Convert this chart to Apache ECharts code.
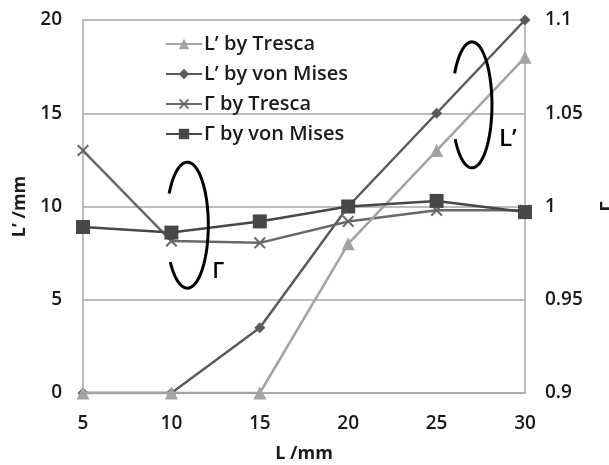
<!DOCTYPE html>
<html>
<head>
<meta charset="utf-8">
<script src="https://cdn.jsdelivr.net/npm/echarts@6/dist/echarts.min.js"></script>
<style>
  html, body { margin: 0; padding: 0; background: #fff; }
  #chart { width: 609px; height: 465px; }
</style>
</head>
<body>
<div id="chart"></div>
<script>
// Support length L (mm)
const lengths = [5, 10, 15, 20, 25, 30];

// Plastic zone length L' (mm), left axis
const lPrimeTresca = [0, 0, 0, 8, 13, 18];
const lPrimeVonMises = [0, 0, 3.5, 10, 15, 20];

// Ratio Γ, right axis
const gammaTresca = [1.030, 0.9815, 0.9805, 0.992, 0.998, 0.998];
const gammaVonMises = [0.989, 0.986, 0.992, 1.000, 1.003, 0.997];

const seriesNames = ['L\u2019 by Tresca', 'L\u2019 by von Mises', '\u0393 by Tresca', '\u0393 by von Mises'];

const FONT = '"Open Sans", "DejaVu Sans", sans-serif';
const crossSymbol = 'path://M0,1.2L1.2,0L5,3.8L8.8,0L10,1.2L6.2,5L10,8.8L8.8,10L5,6.2L1.2,10L0,8.8L3.8,5Z';

const pairs = arr => lengths.map((x, i) => [x, arr[i]]);

const tickFont = { fontFamily: FONT, fontSize: 19, fontWeight: 600, color: '#1a1a1a' };

const chart = echarts.init(document.getElementById('chart'), null, { renderer: 'canvas' });

const option = {
  backgroundColor: '#ffffff',
  animation: false,
  textStyle: { fontFamily: FONT },
  grid: { left: 83, right: 84, top: 20, bottom: 72, outerBoundsMode: 'none', containLabel: false },
  legend: {
    orient: 'vertical',
    left: 160,
    top: 28,
    itemWidth: 36,
    itemHeight: 13,
    itemGap: 8,
    textStyle: { fontFamily: FONT, fontSize: 20, fontWeight: 600, color: '#1a1a1a', lineHeight: 22, padding: [0, 0, 0, -3] },
    data: seriesNames
  },
  xAxis: {
    type: 'value',
    min: 5, max: 30, interval: 5,
    name: 'L /mm',
    nameLocation: 'middle',
    nameGap: 52,
    nameTextStyle: { fontFamily: FONT, fontSize: 18, fontWeight: 'bold', color: '#1a1a1a' },
    axisLine: { show: true, onZero: false, lineStyle: { color: '#a6a6a6', width: 1.5 } },
    axisTick: { show: false },
    splitLine: { show: false },
    axisLabel: Object.assign({ margin: 21 }, tickFont)
  },
  yAxis: [
    {
      type: 'value',
      min: 0, max: 20, interval: 5,
      name: 'L\u2019 /mm',
      nameLocation: 'middle',
      nameRotate: 90,
      nameGap: 52,
      nameTextStyle: { fontFamily: FONT, fontSize: 18, fontWeight: 'bold', color: '#1a1a1a' },
      axisLine: { show: true, lineStyle: { color: '#a6a6a6', width: 1.5 } },
      axisTick: { show: false },
      splitLine: { show: true, lineStyle: { color: '#a6a6a6', width: 1.5 } },
      axisLabel: Object.assign({ margin: 21 }, tickFont)
    },
    {
      type: 'value',
      min: 0.9, max: 1.1, interval: 0.05,
      position: 'right',
      name: '\u0393',
      nameLocation: 'middle',
      nameRotate: 90,
      nameGap: 74,
      nameTextStyle: { fontFamily: FONT, fontSize: 18, fontWeight: 'bold', color: '#1a1a1a' },
      axisLine: { show: true, lineStyle: { color: '#a6a6a6', width: 1.5 } },
      axisTick: { show: false },
      splitLine: { show: false },
      axisLabel: Object.assign({
        margin: 20,
        formatter: v => String(parseFloat(v.toFixed(2)))
      }, tickFont)
    }
  ],
  series: [
    {
      name: seriesNames[0], type: 'line', yAxisIndex: 0,
      data: pairs(lPrimeTresca),
      symbol: 'triangle', symbolSize: 13,
      lineStyle: { color: '#a3a3a3', width: 2.5 },
      itemStyle: { color: '#a3a3a3' },
      z: 3
    },
    {
      name: seriesNames[1], type: 'line', yAxisIndex: 0,
      data: pairs(lPrimeVonMises),
      symbol: 'diamond', symbolSize: 11,
      lineStyle: { color: '#5a5a5a', width: 2.5 },
      itemStyle: { color: '#5a5a5a' },
      z: 2
    },
    {
      name: seriesNames[2], type: 'line', yAxisIndex: 1,
      data: pairs(gammaTresca),
      symbol: crossSymbol, symbolSize: 12,
      lineStyle: { color: '#686868', width: 2.5 },
      itemStyle: { color: '#686868' },
      z: 2
    },
    {
      name: seriesNames[3], type: 'line', yAxisIndex: 1,
      data: pairs(gammaVonMises),
      symbol: 'rect', symbolSize: 14,
      lineStyle: { color: '#474747', width: 2.5 },
      itemStyle: { color: '#474747' },
      z: 4
    }
  ]
};

chart.setOption(option);

// Circular arrows marking which curves belong to which axis
function ellipseArc(cx, cy, rx, ry, a0, a1) {
  const pts = [];
  const n = 80;
  for (let i = 0; i <= n; i++) {
    const t = (a0 + (a1 - a0) * i / n) * Math.PI / 180;
    pts.push([cx + rx * Math.cos(t), cy + ry * Math.sin(t)]);
  }
  return pts;
}

const gammaCenter = chart.convertToPixel({ xAxisIndex: 0, yAxisIndex: 0 }, [10.9, 9.0]);
const lPrimeCenter = chart.convertToPixel({ xAxisIndex: 0, yAxisIndex: 0 }, [27.0, 15.45]);

chart.setOption({
  graphic: [
    {
      type: 'polyline', z: 100,
      shape: { points: ellipseArc(gammaCenter[0], gammaCenter[1], 21, 63, 210, 504) },
      style: { stroke: '#000', lineWidth: 3, fill: null }
    },
    {
      type: 'text', z: 100,
      x: gammaCenter[0] + 25, y: gammaCenter[1] + 36,
      style: { text: '\u0393', font: '600 22px ' + FONT, fill: '#000' }
    },
    {
      type: 'polyline', z: 100,
      shape: { points: ellipseArc(lPrimeCenter[0], lPrimeCenter[1], 20, 63, 210, 507) },
      style: { stroke: '#000', lineWidth: 3, fill: null }
    },
    {
      type: 'text', z: 100,
      x: lPrimeCenter[0] + 27, y: lPrimeCenter[1] + 22,
      style: { text: 'L\u2019', font: '600 24px ' + FONT, fill: '#000' }
    }
  ]
});
</script>
</body>
</html>
